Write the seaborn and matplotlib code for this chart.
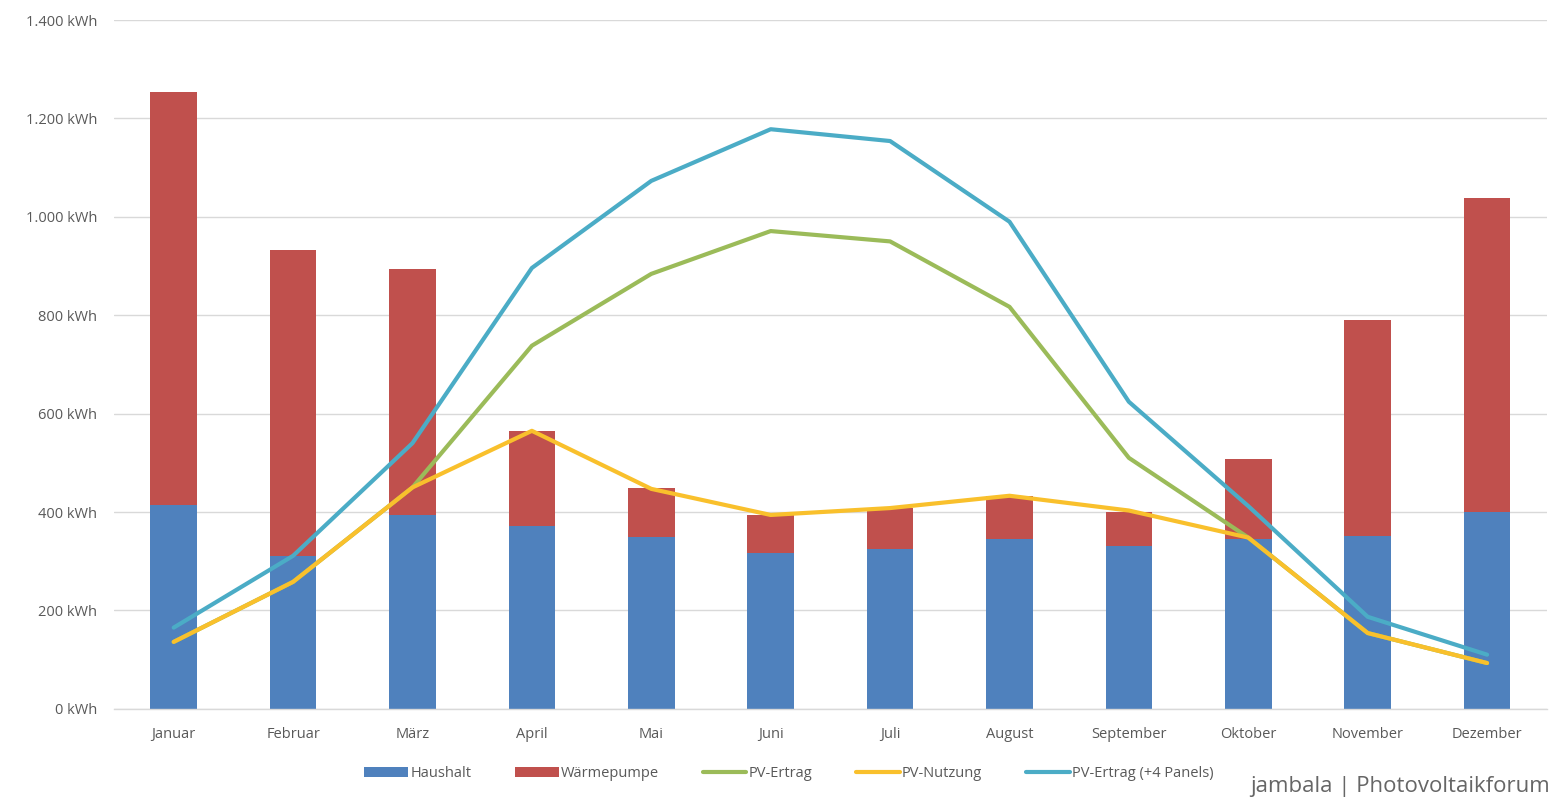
import numpy as np
import pandas as pd
import matplotlib
matplotlib.use("Agg")
import matplotlib.pyplot as plt
from matplotlib.patches import Patch
from matplotlib.lines import Line2D
from matplotlib.ticker import FuncFormatter
import seaborn as sns

# Monthly energy balance (kWh)
months = ["Januar", "Februar", "März", "April", "Mai", "Juni",
          "Juli", "August", "September", "Oktober", "November", "Dezember"]
haushalt = [415, 310, 393, 372, 350, 317, 325, 345, 331, 345, 352, 400]
waermepumpe = [839, 623, 501, 193, 99, 77, 83, 88, 69, 163, 438, 638]
pv_ertrag = [136, 258, 450, 738, 884, 971, 950, 817, 510, 348, 154, 93]
pv_nutzung = [136, 258, 450, 565, 447, 394, 408, 433, 403, 348, 154, 93]
pv_ertrag_plus4 = [165, 311, 540, 896, 1073, 1178, 1154, 990, 624, 412, 187, 110]
y_ticks = [0, 200, 400, 600, 800, 1000, 1200, 1400]

C_HAUS = "#4F81BD"
C_WP = "#C0504D"
C_PV = "#9BBB59"
C_NUTZ = "#F9C02C"
C_PV4 = "#4BACC6"
TXT = "#595959"

df = pd.DataFrame({
    "Monat": months,
    "pos": np.arange(len(months)),
    "Haushalt": haushalt,
    "Wärmepumpe": waermepumpe,
    "PV-Ertrag": pv_ertrag,
    "PV-Nutzung": pv_nutzung,
    "PV-Ertrag (+4 Panels)": pv_ertrag_plus4,
})
df["Gesamt"] = df["Haushalt"] + df["Wärmepumpe"]

sns.set_theme(style="white")
plt.rcParams["font.family"] = ["Open Sans", "DejaVu Sans"]

fig = plt.figure(figsize=(15.53, 8.0), dpi=100)
ax = fig.add_axes([0.0734, 0.114, 0.9226, 0.861])

# stacked columns: full height in red, household share in blue on top
sns.barplot(data=df, x="pos", y="Gesamt", color=C_WP, width=0.39,
            saturation=1, linewidth=0, edgecolor="none", ax=ax, zorder=2)
sns.barplot(data=df, x="pos", y="Haushalt", color=C_HAUS, width=0.39,
            saturation=1, linewidth=0, edgecolor="none", ax=ax, zorder=2)

line_kw = dict(linewidth=3.0, solid_joinstyle="round", solid_capstyle="round", zorder=3)
sns.lineplot(data=df, x="pos", y="PV-Ertrag", color=C_PV, ax=ax, **line_kw)
sns.lineplot(data=df, x="pos", y="PV-Nutzung", color=C_NUTZ, ax=ax, **line_kw)
sns.lineplot(data=df, x="pos", y="PV-Ertrag (+4 Panels)", color=C_PV4, ax=ax, **line_kw)

ax.set_xlim(-0.5, len(months) - 0.5)
ax.set_ylim(0, 1400)
ax.set_yticks(y_ticks)
ax.yaxis.set_major_formatter(FuncFormatter(lambda v, _: f"{int(v):,} kWh".replace(",", ".")))
ax.set_xticks(df["pos"])
ax.set_xticklabels(months)
ax.set_xlabel("")
ax.set_ylabel("")

ax.grid(axis="y", color="#D9D9D9", linewidth=1.0, zorder=0)
ax.grid(axis="x", visible=False)
ax.set_axisbelow(True)
for side in ["top", "right", "left"]:
    ax.spines[side].set_visible(False)
ax.spines["bottom"].set_color("#D9D9D9")
ax.spines["bottom"].set_linewidth(1.0)
ax.tick_params(axis="both", length=0, labelsize=10.5, colors=TXT)
ax.tick_params(axis="x", pad=13)
ax.tick_params(axis="y", pad=12)

handles = [
    Patch(facecolor=C_HAUS, edgecolor="none", label="Haushalt"),
    Patch(facecolor=C_WP, edgecolor="none", label="Wärmepumpe"),
    Line2D([0], [0], color=C_PV, linewidth=3, label="PV-Ertrag"),
    Line2D([0], [0], color=C_NUTZ, linewidth=3, label="PV-Nutzung"),
    Line2D([0], [0], color=C_PV4, linewidth=3, label="PV-Ertrag (+4 Panels)"),
]
leg = fig.legend(handles=handles, loc="center", bbox_to_anchor=(0.508, 0.033),
                 ncol=5, frameon=False, fontsize=10.5, handlelength=3.0,
                 handleheight=0.6, handletextpad=0.15, columnspacing=3.0)
for t in leg.get_texts():
    t.set_color(TXT)

fig.text(0.998, 0.004, "jambala | Photovoltaikforum", ha="right", va="bottom",
         fontsize=16, color="#666666")

fig.savefig("out.png", dpi=100)
